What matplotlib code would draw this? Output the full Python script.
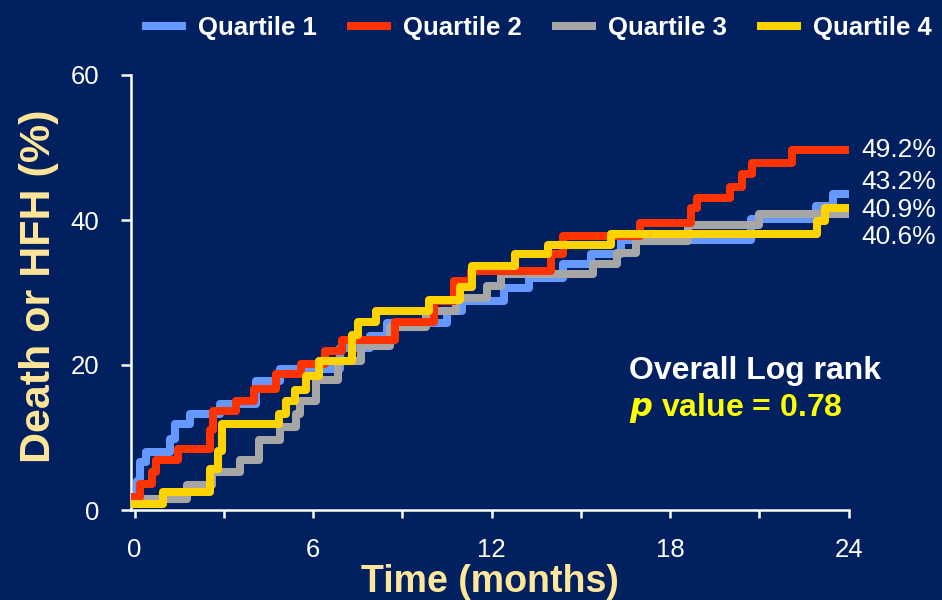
import matplotlib.pyplot as plt

# Kaplan-Meier style cumulative event curves (months, %)
q1_t = [0, 0.1, 0.2, 0.4, 1.2, 1.37, 1.87, 2.87, 4.08, 4.9, 6.9, 7.9, 8.5, 10.5, 11.0, 12.43, 13.27, 14.4, 15.34, 16.34, 20.7, 22.9, 23.46, 24]
q1_y = [1.5, 4.0, 6.6, 8.0, 9.8, 11.8, 13.2, 14.6, 17.8, 19.4, 22.3, 24.0, 25.8, 27.4, 28.8, 30.6, 32.0, 33.9, 35.3, 37.2, 40.2, 42.0, 43.6, 43.6]

q2_t = [0, 0.2, 0.6, 0.73, 1.47, 2.55, 2.65, 3.4, 4.0, 4.75, 5.58, 6.4, 6.98, 8.75, 10.05, 10.75, 11.3, 14.0, 14.4, 17.0, 18.7, 18.9, 20.0, 20.4, 20.75, 22.1, 24]
q2_y = [1.8, 3.6, 5.3, 6.9, 8.4, 11.0, 13.6, 15.0, 16.7, 18.7, 20.2, 21.9, 23.5, 25.9, 28.8, 31.6, 33.0, 35.3, 37.8, 39.6, 41.6, 43.0, 44.5, 46.4, 47.8, 49.6, 49.6]

q3_t = [0, 1.75, 2.6, 3.55, 4.2, 4.88, 5.42, 5.55, 6.1, 6.85, 7.6, 8.6, 9.8, 10.8, 11.85, 12.3, 15.4, 16.2, 16.85, 18.6, 21.0, 24]
q3_y = [1.5, 3.5, 5.2, 6.9, 9.7, 11.5, 13.2, 15.0, 18.0, 20.6, 22.6, 25.3, 27.5, 29.2, 30.9, 32.5, 34.0, 35.5, 37.1, 39.3, 40.8, 40.8]

q4_t = [0, 0.97, 2.55, 2.8, 2.95, 4.85, 5.1, 5.4, 5.75, 6.2, 7.3, 7.5, 8.1, 9.9, 10.95, 11.35, 12.8, 13.9, 16.0, 22.95, 23.2, 24]
q4_y = [0.8, 2.5, 5.6, 8.2, 11.8, 13.3, 15.0, 16.6, 18.5, 20.6, 24.2, 26.0, 27.5, 28.9, 30.8, 33.6, 35.3, 36.5, 38.1, 39.9, 41.7, 41.7]

series_names = ['Quartile 1', 'Quartile 2', 'Quartile 3', 'Quartile 4']
end_labels = ['49.2%', '43.2%', '40.9%', '40.6%']
end_label_y = [49.6, 45.3, 41.4, 37.7]

bg = '#002060'
colors = ['#6699FF', '#FF3300', '#A6A6A6', '#FFD300']

plt.rcParams['font.family'] = ['Liberation Sans', 'DejaVu Sans']

fig = plt.figure(figsize=(9.42, 6), dpi=100, facecolor=bg)
ax = fig.add_axes([0.139, 0.15, 0.762, 0.725], facecolor=bg)

lw = 5.8
# draw order: blue, gray, red, yellow (yellow on top)
h1, = ax.step(q1_t, q1_y, where='post', color=colors[0], lw=lw, zorder=2)
h3, = ax.step(q3_t, q3_y, where='post', color=colors[2], lw=lw, zorder=3)
h2, = ax.step(q2_t, q2_y, where='post', color=colors[1], lw=lw, zorder=4)
h4, = ax.step(q4_t, q4_y, where='post', color=colors[3], lw=lw, zorder=5)

ax.set_xlim(-0.12, 24)
ax.set_ylim(0, 60)
ax.set_xticks(range(0, 25, 3))
ax.set_xticklabels([str(v) if v % 6 == 0 else '' for v in range(0, 25, 3)])
ax.set_yticks([0, 20, 40, 60])

for s in ['top', 'right']:
    ax.spines[s].set_visible(False)
for s in ['left', 'bottom']:
    ax.spines[s].set_color('white')
    ax.spines[s].set_linewidth(1.8)
ax.tick_params(colors='white', width=1.8, labelsize=18.5)
ax.tick_params(axis='x', length=6, pad=14)
ax.tick_params(axis='y', length=7, pad=16)

ax.set_ylabel('Death or HFH (%)', color='#FFE699', fontsize=31, fontweight='bold')
ax.yaxis.set_label_coords(-0.1, 0.515)
ax.set_xlabel('Time (months)', color='#FFE699', fontsize=27, fontweight='bold')
ax.xaxis.set_label_coords(0.5, -0.125)

for lab, yv in zip(end_labels, end_label_y):
    ax.text(24.43, yv, lab, color='white', fontsize=19, va='center', ha='left', clip_on=False)

ax.text(16.61, 18.1, 'Overall Log rank', color='white', fontsize=23, fontweight='bold', ha='left', va='baseline')
ax.text(16.61, 12.9, r'$\bfit{p}$' + ' value = 0.78', color='#FFFF00', fontsize=23, fontweight='bold',
        ha='left', va='baseline')

fig.legend([h1, h2, h3, h4], series_names, loc='upper center', bbox_to_anchor=(0.572, 1.012), ncol=4,
           frameon=False, prop={'size': 18.5, 'weight': 'bold'}, labelcolor='white',
           handlelength=1.4, handletextpad=0.6, columnspacing=1.35)

fig.savefig('out.png', dpi=100, facecolor=bg)
